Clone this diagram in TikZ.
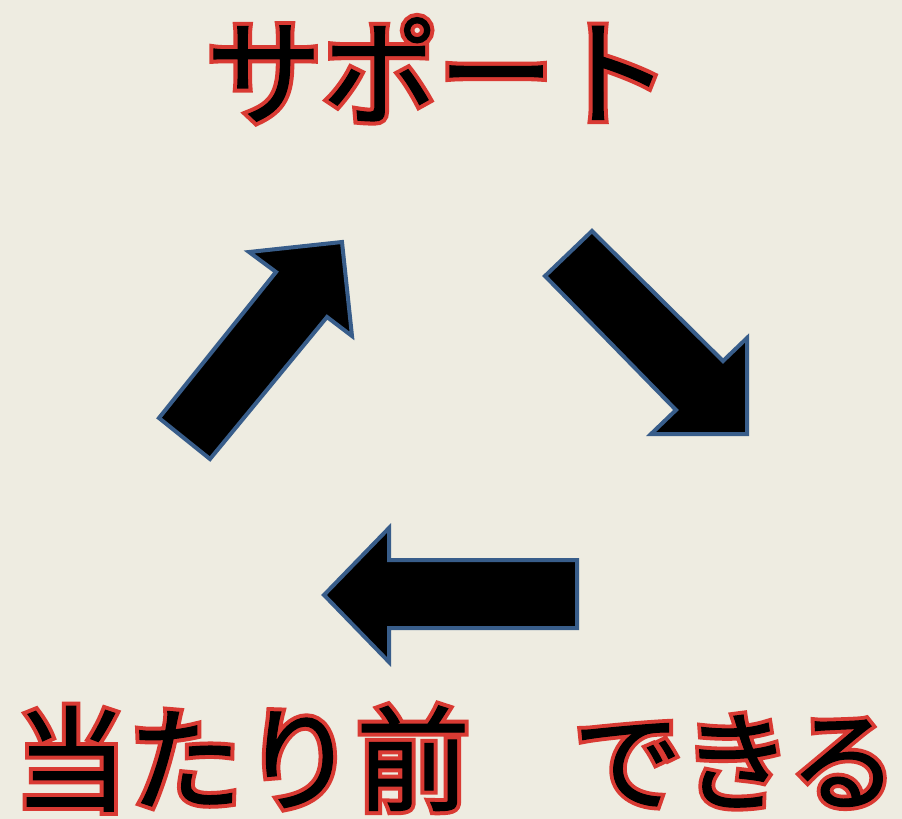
\documentclass[tikz,border=0pt]{standalone}
\usepackage{fontspec}
\newfontfamily\cjk{Noto Sans CJK JP}[FakeBold=1]
\newfontfamily\cjkfat{Noto Sans CJK JP}[FakeBold=8]
\definecolor{bgtan}{HTML}{EEECE1}
\definecolor{arrowblue}{HTML}{385D8A}
\definecolor{outlinered}{HTML}{D93A33}
\begin{document}
\begin{tikzpicture}[x=1pt,y=-1pt,
  arrowshape/.style={fill=black,draw=arrowblue,line width=4pt,line join=miter},
  redlayer/.style={inner sep=0pt,anchor=base west,text=outlinered,font=\cjkfat\fontsize{116}{116}\selectfont},
  blacklayer/.style={inner sep=0pt,anchor=base west,text=black,font=\cjk\fontsize{116}{116}\selectfont}]
\fill[bgtan] (0,0) rectangle (902,819);
\useasboundingbox (0,0) rectangle (902,819);
% arrows
\draw[arrowshape] (159,418) -- (210,459) -- (327,317) -- (352,336) -- (342,242) -- (249,252) -- (276,272) -- cycle;
\draw[arrowshape] (545,276) -- (592,231) -- (723,361) -- (747,338) -- (747,434) -- (651,434) -- (676,410) -- cycle;
\draw[arrowshape] (324,595) -- (389,528) -- (389,560) -- (577,560) -- (577,628) -- (389,628) -- (389,662) -- cycle;
% texts
\node[redlayer] (supportred) at (206,116) {サポート};
\node[blacklayer] (support) at (206,116) {サポート};
\node[redlayer,font=\cjkfat\fontsize{114}{114}\selectfont] (atarimaered) at (14,802) {当たり前};
\node[blacklayer,font=\cjk\fontsize{114}{114}\selectfont] (atarimae) at (14,802) {当たり前};
\node[redlayer,font=\cjkfat\fontsize{109}{109}\selectfont] (dekirured) at (573,802) {できる};
\node[blacklayer,font=\cjk\fontsize{109}{109}\selectfont] (dekiru) at (573,802) {できる};
\end{tikzpicture}
\end{document}
